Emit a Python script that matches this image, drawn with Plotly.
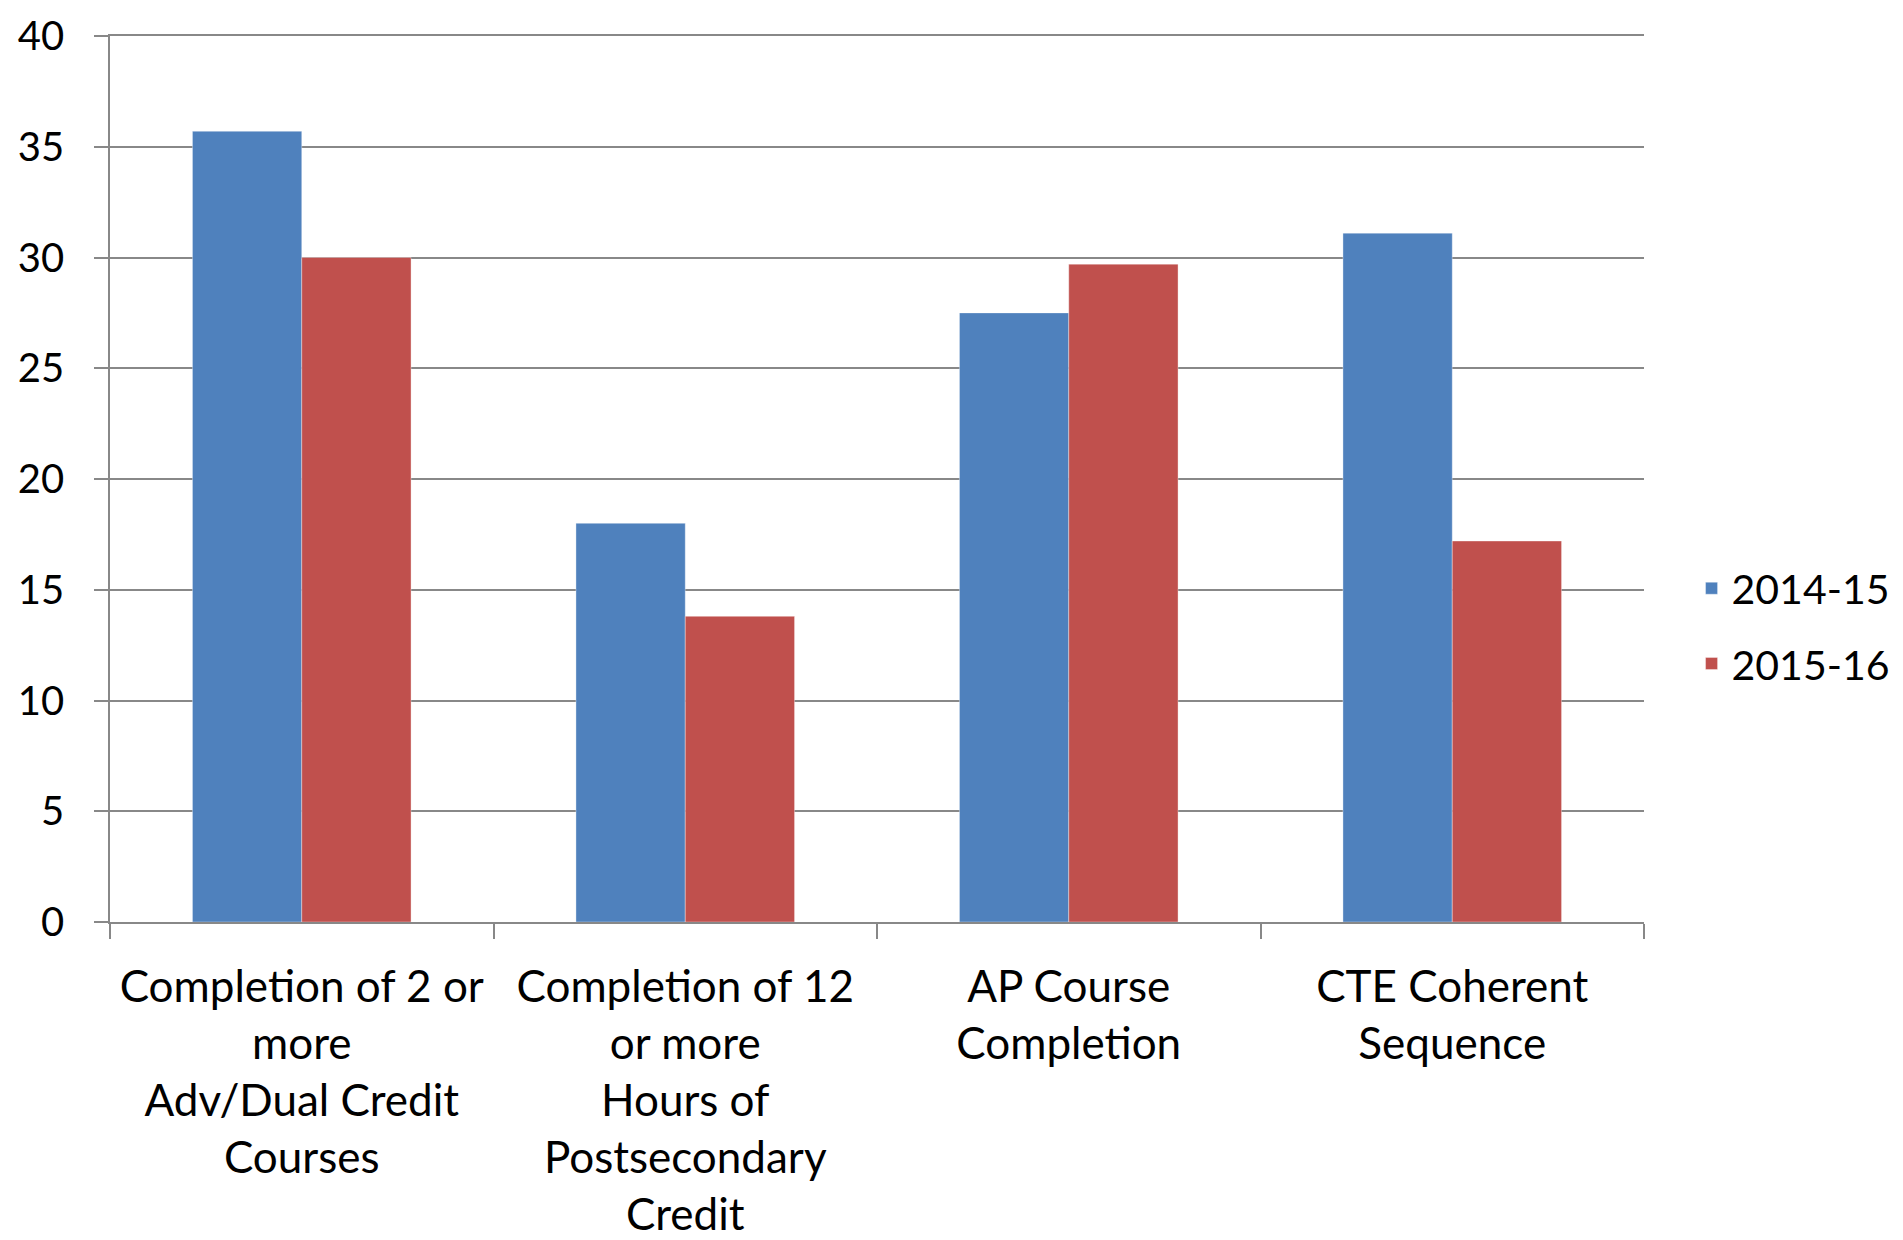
import plotly.graph_objects as go

categories = [
    "Completion of 2 or<br>more<br>Adv/Dual Credit<br>Courses",
    "Completion of 12<br>or more<br>Hours of<br>Postsecondary<br>Credit",
    "AP Course<br>Completion",
    "CTE Coherent<br>Sequence",
]
series_names = ["2014-15", "2015-16"]
values_2014_15 = [35.7, 18.0, 27.5, 31.1]
values_2015_16 = [30.0, 13.8, 29.7, 17.2]
y_ticks = [0, 5, 10, 15, 20, 25, 30, 35, 40]

colors = ["#4F81BD", "#C0504D"]
grid_color = "#888888"
font_family = "Lato, 'Open Sans', sans-serif"

fig = go.Figure()

for i, (name, vals) in enumerate(zip(series_names, [values_2014_15, values_2015_16])):
    fig.add_trace(
        go.Bar(
            x=categories,
            y=vals,
            name=name,
            legendgroup=name,
            marker=dict(color=colors[i], line=dict(color="rgba(255,255,255,0.6)", width=0.6)),
        )
    )

fig.update_layout(
    template="plotly_white",
    width=1903,
    height=1240,
    barmode="group",
    bargap=0.43,
    bargroupgap=0,
    plot_bgcolor="white",
    paper_bgcolor="white",
    font=dict(family=font_family, size=41, color="black"),
    margin=dict(l=102, r=267, t=28, b=326, autoexpand=False),
    legend=dict(
        x=1.031,
        xanchor="left",
        y=0.334,
        yanchor="middle",
        font=dict(size=41),
        tracegroupgap=19,
        itemwidth=30,
    ),
)

fig.update_yaxes(
    range=[0, 40],
    tickvals=y_ticks,
    showgrid=True,
    gridcolor=grid_color,
    gridwidth=1.5,
    showline=True,
    linecolor=grid_color,
    linewidth=1.5,
    ticks="outside",
    ticklen=14,
    tickcolor=grid_color,
    tickwidth=1.5,
    ticklabelstandoff=22,
    ticklabeloverflow="allow",
    zeroline=False,
    tickfont=dict(size=40),
)

fig.update_xaxes(
    showline=True,
    mirror=True,
    linecolor=grid_color,
    linewidth=1.5,
    ticks="outside",
    tickson="boundaries",
    ticklen=15,
    tickcolor=grid_color,
    tickwidth=1.5,
    showgrid=False,
    tickangle=0,
    ticklabelstandoff=25,
    tickfont=dict(size=44),
)

fig.write_html("out.html")
